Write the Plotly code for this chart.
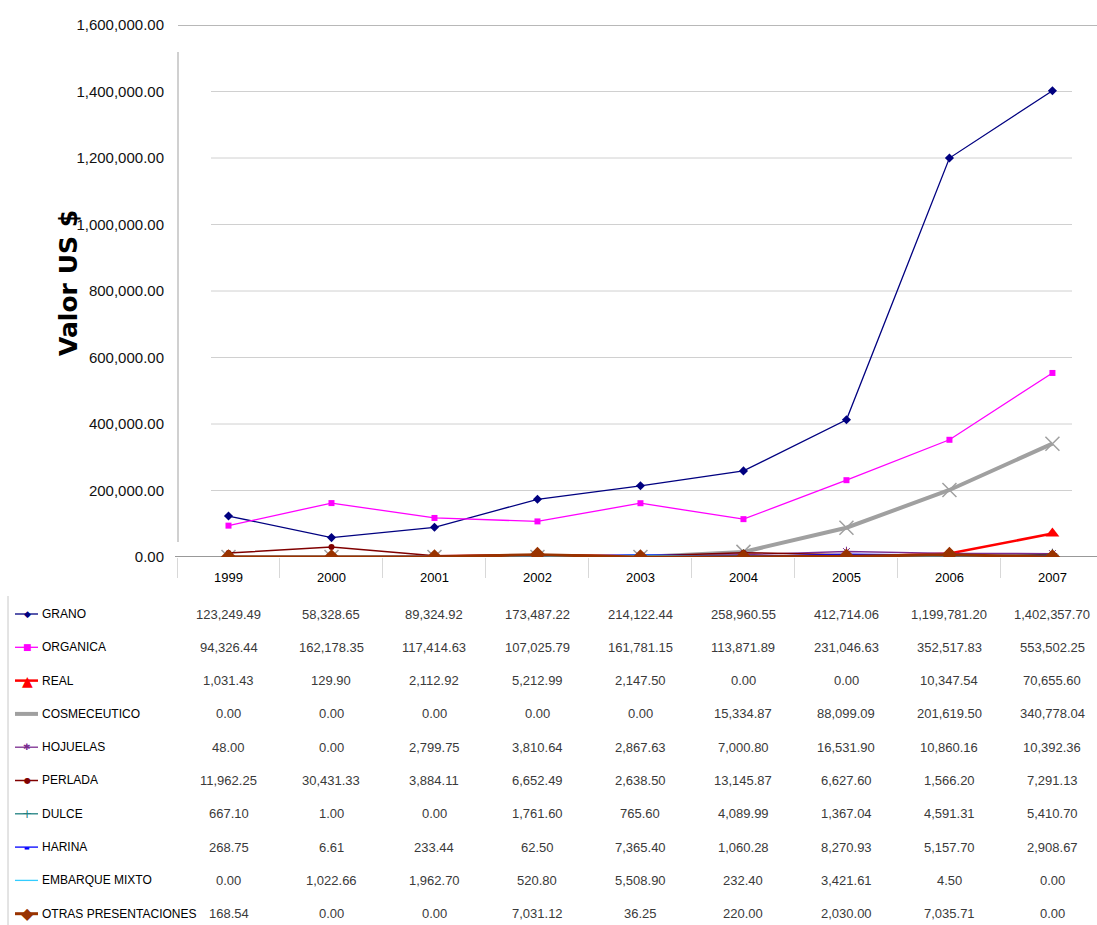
import plotly.graph_objects as go

years = ["1999", "2000", "2001", "2002", "2003", "2004", "2005", "2006", "2007"]

grano = [123249.49, 58328.65, 89324.92, 173487.22, 214122.44, 258960.55, 412714.06, 1199781.20, 1402357.70]
organica = [94326.44, 162178.35, 117414.63, 107025.79, 161781.15, 113871.89, 231046.63, 352517.83, 553502.25]
real = [1031.43, 129.90, 2112.92, 5212.99, 2147.50, 0.00, 0.00, 10347.54, 70655.60]
cosmeceutico = [0.00, 0.00, 0.00, 0.00, 0.00, 15334.87, 88099.09, 201619.50, 340778.04]
hojuelas = [48.00, 0.00, 2799.75, 3810.64, 2867.63, 7000.80, 16531.90, 10860.16, 10392.36]
perlada = [11962.25, 30431.33, 3884.11, 6652.49, 2638.50, 13145.87, 6627.60, 1566.20, 7291.13]
dulce = [667.10, 1.00, 0.00, 1761.60, 765.60, 4089.99, 1367.04, 4591.31, 5410.70]
harina = [268.75, 6.61, 233.44, 62.50, 7365.40, 1060.28, 8270.93, 5157.70, 2908.67]
embarque_mixto = [0.00, 1022.66, 1962.70, 520.80, 5508.90, 232.40, 3421.61, 4.50, 0.00]
otras = [168.54, 0.00, 0.00, 7031.12, 36.25, 220.00, 2030.00, 7035.71, 0.00]

y_ticks = [0, 200000, 400000, 600000, 800000, 1000000, 1200000, 1400000, 1600000]

# name, values, line style, marker style, legend-key glyph (glyph, size)
series = [
    ("GRANO", grano, dict(color="#000080", width=1.3), dict(symbol="diamond", size=7), ("◆", 9)),
    ("ORGANICA", organica, dict(color="#FF00FF", width=1.3), dict(symbol="square", size=6), ("■", 9)),
    ("REAL", real, dict(color="#FF0000", width=2.5), dict(symbol="triangle-up", size=12), ("▲", 14)),
    ("COSMECEUTICO", cosmeceutico, dict(color="#A0A0A0", width=4), dict(symbol="x-thin-open", size=14, line=dict(width=1.5, color="#A0A0A0")), ("", 1)),
    ("HOJUELAS", hojuelas, dict(color="#7B2C8F", width=1.3), dict(symbol="asterisk-open", size=8, line=dict(width=1, color="#7B2C8F")), ("✱", 9)),
    ("PERLADA", perlada, dict(color="#800000", width=1.5), dict(symbol="circle", size=6), ("●", 8)),
    ("DULCE", dulce, dict(color="#1F8080", width=1.3), dict(symbol="cross-thin-open", size=9, line=dict(width=1, color="#1F8080")), ("+", 12)),
    ("HARINA", harina, dict(color="#0000FF", width=1.3), dict(symbol="line-ew-open", size=6, line=dict(width=2, color="#0000FF")), ("▬", 6)),
    ("EMBARQUE MIXTO", embarque_mixto, dict(color="#33CCFF", width=1.3), dict(symbol="line-ew-open", size=6, line=dict(width=1, color="#33CCFF")), ("", 1)),
    ("OTRAS PRESENTACIONES", otras, dict(color="#993300", width=3), dict(symbol="diamond", size=12), ("◆", 16)),
]

FONT = "Liberation Sans, Arial, sans-serif"

fig = go.Figure()
for i, (name, vals, line, marker, key) in enumerate(series):
    fig.add_trace(go.Scatter(
        x=years, y=vals, name=name, mode="lines+markers",
        line=line, marker=dict(color=line["color"], **marker),
        showlegend=False,
    ))

# Plot geometry in pixels
W, H = 1097, 925
L, R, T, B = 177, 25, 25, 368
plot_h = H - T - B
plot_w = W - L - R

def py(px):
    return (H - B - px) / plot_h

def px_x(px):
    return (px - L) / plot_w

# data table below the chart
row0, row_step = 614, 33.3
annotations = []
shapes = []
for i, (name, vals, line, marker, key) in enumerate(series):
    ypx = row0 + i * row_step
    yy = py(ypx)
    for j, v in enumerate(vals):
        annotations.append(dict(
            x=j, y=yy, xref="x", yref="paper", text=f"{v:,.2f}",
            showarrow=False, font=dict(family=FONT, size=13, color="#3a3a3a"),
            xanchor="center", yanchor="middle",
        ))
    # row label
    annotations.append(dict(
        x=px_x(40), y=yy, xref="paper", yref="paper", text=name,
        showarrow=False, font=dict(family=FONT, size=12, color="#000000"),
        xanchor="left", yanchor="middle",
    ))
    # legend key line
    shapes.append(dict(type="line", xref="paper", yref="paper", x0=px_x(15), x1=px_x(38), y0=yy, y1=yy,
                       line=dict(color=line["color"], width=line["width"])))
    glyph, gsize = key
    if glyph:
        annotations.append(dict(
            x=px_x(27), y=yy, xref="paper", yref="paper", text=glyph,
            showarrow=False, font=dict(family="DejaVu Sans", size=gsize, color=line["color"]),
            xanchor="center", yanchor="middle",
        ))

annotations.append(dict(
    x=px_x(68), y=py(283), xref="paper", yref="paper", text="<b>Valor US $</b>",
    textangle=-90, showarrow=False, font=dict(family="DejaVu Sans, Arial", size=25, color="#000000"),
    xanchor="center", yanchor="middle",
))

# gridlines
for v in y_ticks[1:-1]:
    shapes.append(dict(type="line", xref="paper", yref="y", x0=px_x(211), x1=1, y0=v, y1=v,
                       line=dict(color="#D0D0D0", width=1), layer="below"))
# top line
shapes.append(dict(type="line", xref="paper", yref="y", x0=px_x(178), x1=px_x(1097), y0=y_ticks[-1], y1=y_ticks[-1],
                   line=dict(color="#A0A0A0", width=1.5), layer="below"))
# zero line
shapes.append(dict(type="line", xref="paper", yref="y", x0=px_x(175), x1=px_x(1097), y0=0, y1=0,
                   line=dict(color="#999999", width=2), layer="below"))
# y axis line
shapes.append(dict(type="line", xref="paper", yref="paper", x0=px_x(178), x1=px_x(178), y0=py(52), y1=py(542),
                   line=dict(color="#C0C0C0", width=1.5), layer="below"))
# table left border
shapes.append(dict(type="line", xref="paper", yref="paper", x0=px_x(8), x1=px_x(8), y0=py(596), y1=py(925),
                   line=dict(color="#C8C8C8", width=1)))

fig.update_layout(
    width=W, height=H,
    margin=dict(l=L, r=R, t=T, b=B, pad=0),
    paper_bgcolor="white", plot_bgcolor="white",
    showlegend=False,
    xaxis=dict(
        type="category", range=[-0.5, 8.19],
        showgrid=False, zeroline=False, showline=False,
        ticks="outside", ticklen=8, tickcolor="rgba(0,0,0,0)",
        tickfont=dict(family=FONT, size=13, color="#000000"),
    ),
    xaxis2=dict(
        type="category", range=[-0.5, 8.19], overlaying="x", matches="x",
        showgrid=False, zeroline=False, showline=False, showticklabels=False,
        ticks="outside", tickson="boundaries", ticklen=20, tickcolor="#D8D8D8", tickwidth=1,
        anchor="y",
    ),
    yaxis=dict(
        range=[0, 1600000], tickvals=y_ticks, tickformat=",.2f",
        showgrid=False, zeroline=False, showline=False,
        ticks="outside", ticklen=9, tickcolor="rgba(0,0,0,0)",
        tickfont=dict(family=FONT, size=15, color="#111111"),
    ),
    annotations=annotations,
    shapes=shapes,
)
# invisible trace so the overlay axis draws its boundary ticks
fig.add_trace(go.Scatter(x=years, y=[None] * len(years), xaxis="x2", yaxis="y",
                         showlegend=False, hoverinfo="skip", mode="lines"))

fig.write_html("out.html")
